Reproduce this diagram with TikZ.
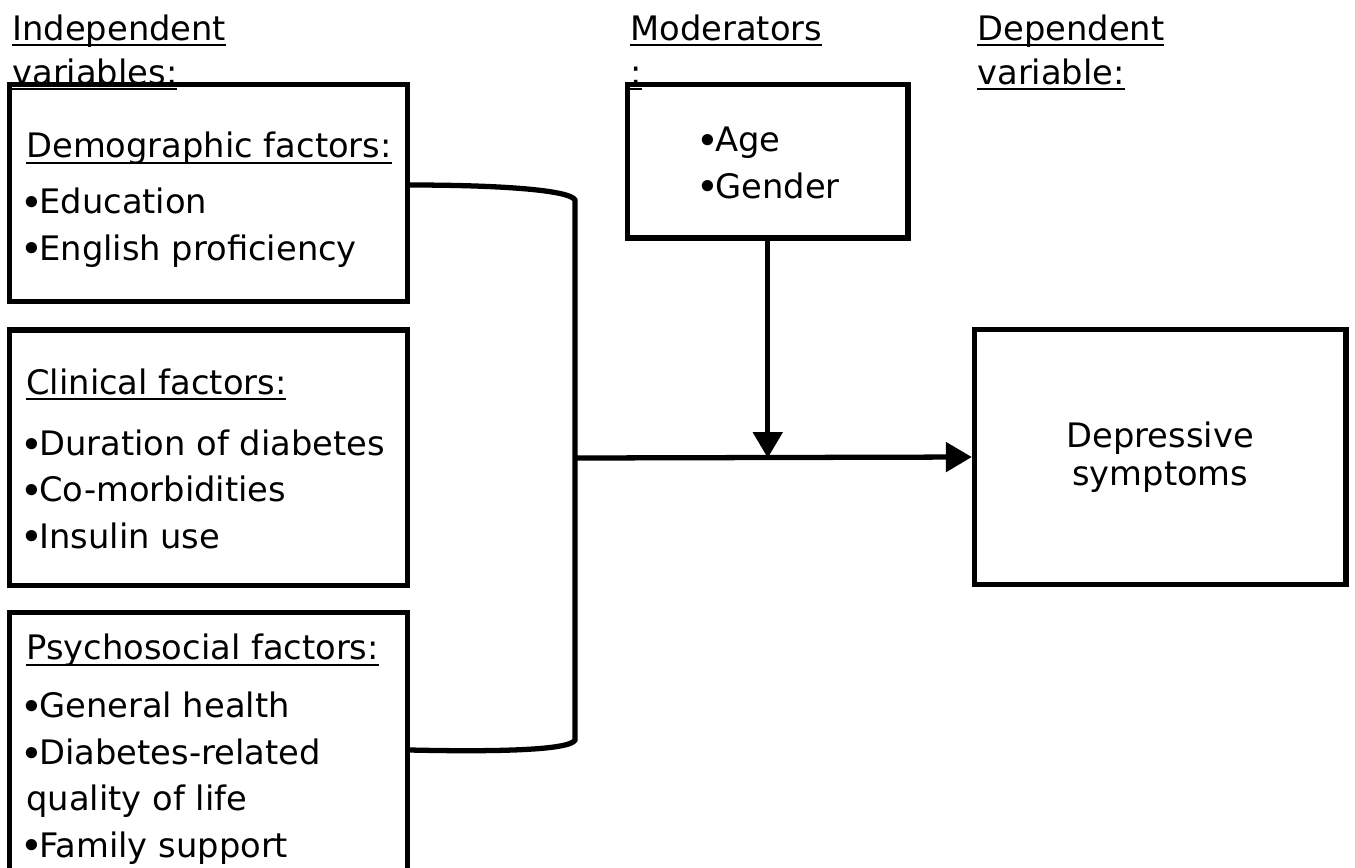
\documentclass[tikz,border=0pt]{standalone}
\usepackage{fontspec}
\setmainfont{DejaVu Sans}
\usetikzlibrary{arrows.meta,positioning}
\tikzstyle{box}=[draw, line width=3pt, rectangle, inner sep=0pt]
\tikzstyle{boxtext}=[inner sep=0pt, anchor=base west, align=left, font=\fontsize{19.2}{26.4}\selectfont]
\tikzstyle{heading}=[inner sep=0pt, anchor=base west, align=left, font=\fontsize{19.2}{25}\selectfont]
\tikzstyle{link}=[draw, line width=3pt]
\tikzstyle{arrowlink}=[link, -{Triangle[length=0.52cm,width=0.58cm]}]
\newcommand{\bul}{\makebox[7.4pt][l]{\makebox[6.2pt][c]{\raisebox{-1.6pt}{\fontsize{22}{22}\selectfont•}}}}
\newcommand{\undl}[1]{\setbox0\hbox{#1}\rlap{\rule[-3.4pt]{\wd0}{1.1pt}}\box0}

\begin{document}
\begin{tikzpicture}[x=0.02cm, y=-0.02cm]

    \clip (0,0) rectangle (1355,867);

    % headings (base = last line)
    \node[heading] (indep) at (12,84) {\undl{Independent}\\\undl{variables:}};
    \node[heading] (modhead) at (630,84) {\undl{Moderators}\\\undl{:}};
    \node[heading] (dephead) at (977,84) {\undl{Dependent}\\\undl{variable:}};

    \foreach \name/\x/\y/\w/\h in {demo/208.5/193/398/217, clin/208.5/457.75/398/255.5,
        psych/208.5/750/398/275, moder/767.75/161.25/280.5/153.5, depr/1160.25/457/371.5/255}
        \node[box, minimum width=\w*0.02cm, minimum height=\h*0.02cm] (\name) at (\x,\y) {};

    \node[boxtext] (demotext) at (26,260) {\undl{Demographic factors:}\\[5.5pt]\bul Education\\\bul English proficiency};
    \node[boxtext] (clintext) at (26,548) {\undl{Clinical factors:}\\[8.3pt]\bul Duration of diabetes\\\bul Co-morbidities\\\bul Insulin use};
    \node[boxtext] (psychtext) at (26,857) {\undl{Psychosocial factors:}\\[6.6pt]\bul General health\\\bul Diabetes-related\\quality of life\\\bul Family support};
    \node[boxtext] (modertext) at (702,198) {\bul Age\\\bul Gender};
    \node[align=center, inner sep=0pt, font=\fontsize{19.2}{21.6}\selectfont] (deprtext) at (depr) {Depressive\\symptoms};

    % connectors
    \coordinate (joint) at (575,458);
    \path[link] ([yshift=0.16cm]demo.east) .. controls (500,185) and (570,190) .. (575,200)
        -- (575,740) .. controls (570,750) and (500,752) .. (psych.east);
    \path[arrowlink] (joint) -- (depr.west);
    \path[arrowlink] (moder.south) -- (moder.south |- joint);

\end{tikzpicture}
\end{document}
